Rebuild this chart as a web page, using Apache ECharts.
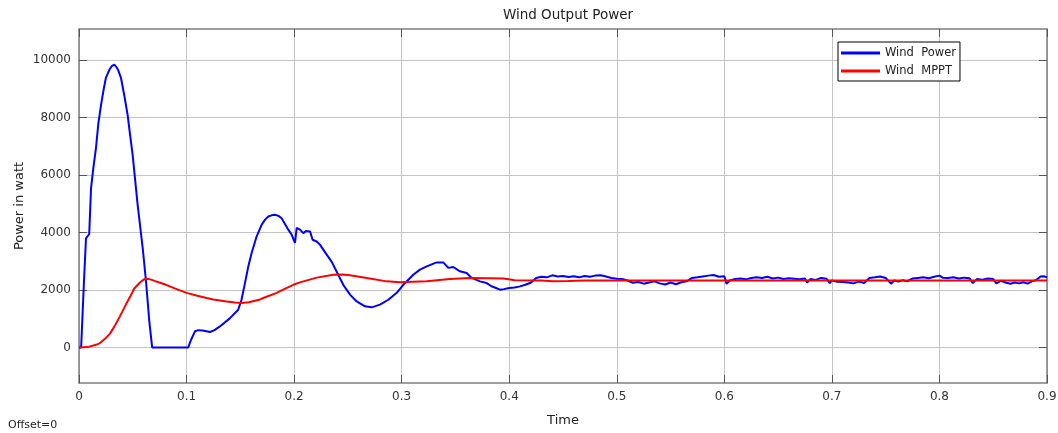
<!DOCTYPE html>
<html>
<head>
<meta charset="utf-8">
<title>Wind Output Power</title>
<script src="https://cdn.jsdelivr.net/npm/echarts@6/dist/echarts.min.js"></script>
<style>
    html, body {margin: 0; padding: 0; background: #fff;}
    #char1 {width: 1058px; height: 433px;}
</style>
</head>
<body>
<div id="char1"></div>
<script>
    // 风机输出功率 (t 秒, 功率 W)
    var powerTime = [
        0, 0.002, 0.0045, 0.0065, 0.008, 0.0095, 0.0112, 0.0135, 0.0158, 0.018,
        0.0205, 0.023, 0.025, 0.028, 0.0305, 0.0328, 0.0345, 0.0365, 0.039, 0.042,
        0.0452, 0.0475, 0.0499, 0.0545, 0.0592, 0.0623, 0.0654, 0.068, 0.1016, 0.104,
        0.1078, 0.111, 0.115, 0.1218, 0.126, 0.131, 0.1404, 0.148, 0.1511, 0.1543,
        0.1574, 0.1605, 0.1652, 0.1698, 0.173, 0.176, 0.179, 0.1822, 0.1855, 0.1884,
        0.1915, 0.1946, 0.1977, 0.2008, 0.2024, 0.2055, 0.2085, 0.211, 0.2148, 0.2172,
        0.221, 0.224, 0.2303, 0.235, 0.241, 0.2457, 0.252, 0.2582, 0.2659, 0.2721,
        0.2798, 0.2876, 0.2954, 0.3015, 0.3108, 0.317, 0.3233, 0.3325, 0.3387, 0.3434,
        0.348, 0.3542, 0.3604, 0.3651, 0.3728, 0.379, 0.3835, 0.3883, 0.3914, 0.395,
        0.400, 0.405, 0.410, 0.415, 0.420, 0.425, 0.430, 0.435, 0.440, 0.445,
        0.450, 0.455, 0.460, 0.465, 0.470, 0.475, 0.480, 0.485, 0.490, 0.495,
        0.500, 0.505, 0.510, 0.515, 0.520, 0.525, 0.530, 0.535, 0.540, 0.545,
        0.550, 0.555, 0.560, 0.565, 0.570, 0.575, 0.580, 0.585, 0.590, 0.595,
        0.600, 0.602, 0.605, 0.610, 0.615, 0.620, 0.625, 0.630, 0.635, 0.640,
        0.645, 0.650, 0.655, 0.660, 0.665, 0.670, 0.675, 0.677, 0.680, 0.685,
        0.690, 0.695, 0.698, 0.700, 0.705, 0.710, 0.715, 0.720, 0.725, 0.730,
        0.735, 0.740, 0.745, 0.750, 0.755, 0.758, 0.762, 0.766, 0.770, 0.775,
        0.780, 0.785, 0.790, 0.795, 0.800, 0.803, 0.808, 0.813, 0.818, 0.823,
        0.828, 0.831, 0.835, 0.840, 0.845, 0.850, 0.853, 0.857, 0.862, 0.866,
        0.870, 0.874, 0.878, 0.882, 0.886, 0.890, 0.894, 0.897, 0.900
    ];
    var powerWatt = [
        0, 0, 2200, 3800, 3850, 3950, 5550, 6300, 6950, 7800,
        8450, 9000, 9390, 9650, 9800, 9850, 9780, 9650, 9390, 8800,
        8100, 7400, 6700, 4970, 3470, 2300, 900, 0, 0, 250,
        560, 600, 590, 535, 600, 730, 1020, 1310, 1660, 2240,
        2820, 3290, 3870, 4270, 4450, 4560, 4600, 4620, 4580, 4500,
        4300, 4100, 3930, 3640, 4160, 4100, 3980, 4050, 4040, 3750,
        3690, 3580, 3230, 2980, 2530, 2180, 1840, 1600, 1430, 1395,
        1490, 1660, 1900, 2180, 2530, 2710, 2820, 2960, 2960, 2770,
        2800, 2650, 2590, 2420, 2300, 2240, 2130, 2060, 2010, 2030,
        2070, 2090, 2125, 2180, 2250, 2420, 2460, 2440, 2510, 2470,
        2490, 2450, 2480, 2440, 2490, 2460, 2500, 2510, 2470, 2420,
        2390, 2380, 2330, 2250, 2280, 2220, 2260, 2300, 2230, 2190,
        2260, 2200, 2270, 2300, 2420, 2440, 2470, 2500, 2520, 2460,
        2480, 2220, 2330, 2380, 2400, 2370, 2420, 2440, 2420, 2460,
        2400, 2430, 2380, 2410, 2390, 2370, 2400, 2260, 2380, 2350,
        2420, 2390, 2240, 2330, 2290, 2280, 2260, 2230, 2290, 2240,
        2420, 2440, 2470, 2420, 2220, 2330, 2290, 2340, 2300, 2400,
        2420, 2440, 2410, 2460, 2500, 2430, 2420, 2440, 2400, 2430,
        2410, 2240, 2380, 2360, 2400, 2380, 2230, 2320, 2250, 2220,
        2260, 2230, 2270, 2220, 2300, 2350, 2470, 2480, 2440
    ];

    // MPPT 参考功率
    var mpptTime = [
        0, 0.008, 0.0158, 0.0195, 0.025, 0.0288, 0.034, 0.038, 0.0437, 0.048,
        0.0514, 0.0567, 0.0605, 0.0635, 0.067, 0.0716, 0.0753, 0.0809, 0.0908, 0.1001,
        0.11, 0.1187, 0.1249, 0.1373, 0.145, 0.1513, 0.158, 0.1683, 0.1713, 0.1838,
        0.1869, 0.1992, 0.2055, 0.221, 0.2364, 0.245, 0.252, 0.2675, 0.2861, 0.2984,
        0.3233, 0.3449, 0.3635, 0.38, 0.395, 0.405, 0.43, 0.44, 0.455, 0.47,
        0.9
    ];
    var mpptWatt = [
        0, 10, 90, 150, 330, 480, 800, 1080, 1500, 1800,
        2050, 2260, 2370, 2390, 2360, 2300, 2250, 2180, 2030, 1900,
        1800, 1720, 1670, 1600, 1560, 1545, 1570, 1670, 1720, 1900,
        1960, 2180, 2265, 2430, 2530, 2540, 2510, 2420, 2300, 2265,
        2300, 2380, 2420, 2410, 2400, 2340, 2330, 2300, 2310, 2330,
        2330
    ];

    var yTicks = [0, 2000, 4000, 6000, 8000, 10000];

    function zip(xs, ys) {
        var out = [];
        for (var i = 0; i < xs.length; i++) {
            out.push([xs[i], ys[i]]);
        }
        return out;
    }

    var font = 'DejaVu Sans';
    var textColor = '#333';
    var boxLine = {onZero: false, lineStyle: {color: '#7f7f7f', width: 1.5}};
    var inTick = {show: true, inside: true, length: 8, lineStyle: {color: '#555'}};

    var char1 = echarts.init(document.getElementById('char1'));
    var charOption = {
        animation: false,
        backgroundColor: '#fff',
        title: {
            text: 'Wind Output Power',
            left: 563,
            top: 3,
            textAlign: 'center',
            textStyle: {fontFamily: font, fontSize: 13.5, fontWeight: 'normal', color: '#222'}
        },
        legend: {
            orient: 'vertical',
            left: 838,
            top: 42,
            padding: [5, 4, 4, 3],
            itemGap: 6,
            itemWidth: 39,
            itemHeight: 3,
            icon: 'rect',
            borderColor: '#000',
            borderWidth: 1,
            backgroundColor: '#fff',
            textStyle: {fontFamily: font, fontSize: 11.5, color: '#222'},
            data: ['Wind  Power', 'Wind  MPPT']
        },
        graphic: [{
            type: 'text',
            left: 8,
            top: 420,
            style: {text: 'Offset=0', fontFamily: font, fontSize: 11, fill: '#222'}
        }],
        grid: {left: 79, right: 11, top: 29, bottom: 50, outerBoundsMode: 'none'},
        xAxis: [{
            type: 'value',
            min: 0,
            max: 0.9,
            interval: 0.1,
            name: 'Time',
            nameLocation: 'middle',
            nameGap: 31,
            nameMoveOverlap: false,
            nameTextStyle: {fontFamily: font, fontSize: 13, color: '#222'},
            axisLine: boxLine,
            axisTick: inTick,
            axisLabel: {
                margin: 8,
                fontFamily: font, fontSize: 12, color: textColor,
                formatter: function (v) { return String(+v.toFixed(1)); }
            },
            splitLine: {show: true, lineStyle: {color: '#c4c4c4'}}
        }, {
            type: 'value',
            position: 'top',
            min: 0,
            max: 0.9,
            interval: 0.1,
            axisLine: boxLine,
            axisTick: inTick,
            axisLabel: {show: false},
            splitLine: {show: false}
        }],
        yAxis: [{
            type: 'value',
            min: -1240,
            max: 11090,
            name: 'Power in watt',
            nameLocation: 'middle',
            nameRotate: 90,
            nameGap: 53,
            nameMoveOverlap: false,
            nameTextStyle: {fontFamily: font, fontSize: 13, color: '#222'},
            axisLine: {show: true, onZero: false, lineStyle: {color: '#7f7f7f', width: 1.5}},
            axisTick: {show: true, inside: true, length: 8, customValues: yTicks, lineStyle: {color: '#555'}},
            axisLabel: {
                margin: 8, customValues: yTicks,
                fontFamily: font, fontSize: 12, color: textColor,
                formatter: function (v) { return String(v); }
            },
            splitLine: {show: true, lineStyle: {color: '#c4c4c4'}}
        }, {
            type: 'value',
            position: 'right',
            min: -1240,
            max: 11090,
            axisLine: {show: true, onZero: false, lineStyle: {color: '#7f7f7f', width: 1.5}},
            axisTick: {show: true, inside: true, length: 8, customValues: yTicks, lineStyle: {color: '#555'}},
            axisLabel: {show: false},
            splitLine: {show: false}
        }],
        series: [
            {
                name: 'Wind  Power', type: 'line', xAxisIndex: 0, yAxisIndex: 0,
                showSymbol: false, symbol: 'none',
                color: '#0000ff',
                lineStyle: {width: 2, color: '#0000ff'},
                data: zip(powerTime, powerWatt)
            },
            {
                name: 'Wind  MPPT', type: 'line', xAxisIndex: 0, yAxisIndex: 0,
                showSymbol: false, symbol: 'none',
                color: '#ff0000',
                lineStyle: {width: 2, color: '#ff0000'},
                data: zip(mpptTime, mpptWatt)
            }
        ]
    };
    char1.setOption(charOption);
</script>
</body>
</html>
